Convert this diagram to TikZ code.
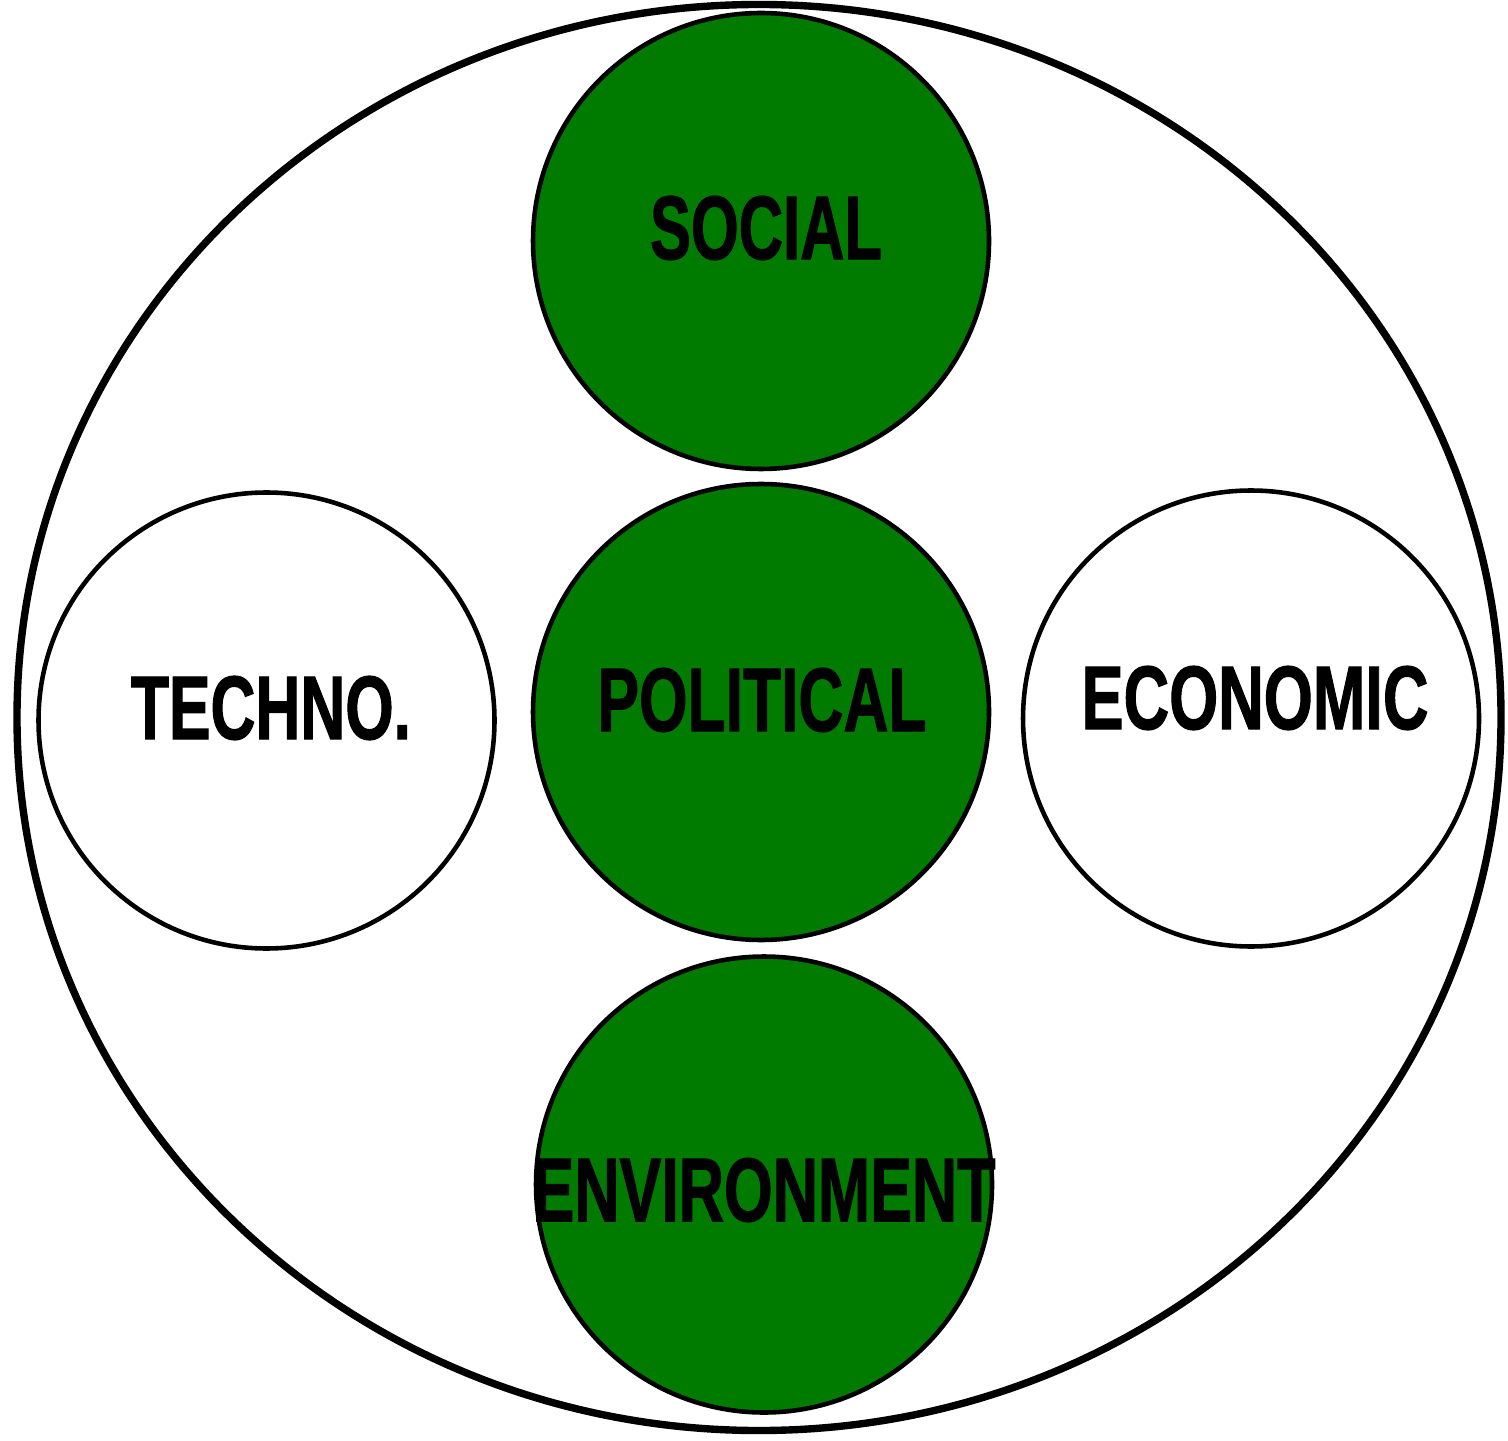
\documentclass[tikz,border=0pt]{standalone}
\usepackage{fontspec}
\setmainfont{Liberation Sans}
\newfontfamily\heavyfont{Liberation Sans Bold}[FakeBold=1.5]
\usetikzlibrary{shapes.geometric}
\definecolor{leafgreen}{RGB}{0,123,0}
\newcommand{\lbl}[2]{\resizebox{#1cm}{0.63cm}{\heavyfont\bfseries #2}}
\tikzset{
  outerring/.style={draw,ellipse,line width=2.1pt,minimum width=14.84cm,minimum height=14.26cm,inner sep=0pt},
  factor/.style={draw,circle,line width=1.3pt,minimum size=4.56cm,inner sep=0pt},
  greenfactor/.style={factor,fill=leafgreen},
  factortext/.style={inner sep=0pt}
}
\begin{document}
\begin{tikzpicture}[x=1cm,y=1cm]
\useasboundingbox (0,0) rectangle (15.08,14.40);
\node[outerring] (whole) at (7.59,7.225) {};
\node[greenfactor] (social) at (7.61,11.99) {};
\node[greenfactor] (political) at (7.61,7.28) {};
\node[greenfactor] (environment) at (7.64,2.555) {};
\node[factor] (techno) at (2.665,7.195) {};
\node[factor] (economic) at (12.51,7.215) {};
% labels
\node[factortext] (sociallbl) at (7.66,12.12) {\lbl{2.32}{SOCIAL}};
\node[factortext] (politicallbl) at (7.62,7.40) {\lbl{3.29}{POLITICAL}};
\node[factortext] (technolbl) at (2.71,7.32) {\lbl{2.80}{TECHNO.}};
\node[factortext] (economiclbl) at (12.55,7.42) {\lbl{3.47}{ECONOMIC}};
\node[factortext] (environmentlbl) at (7.64,2.50) {\lbl{4.63}{ENVIRONMENT}};
\end{tikzpicture}
\end{document}
